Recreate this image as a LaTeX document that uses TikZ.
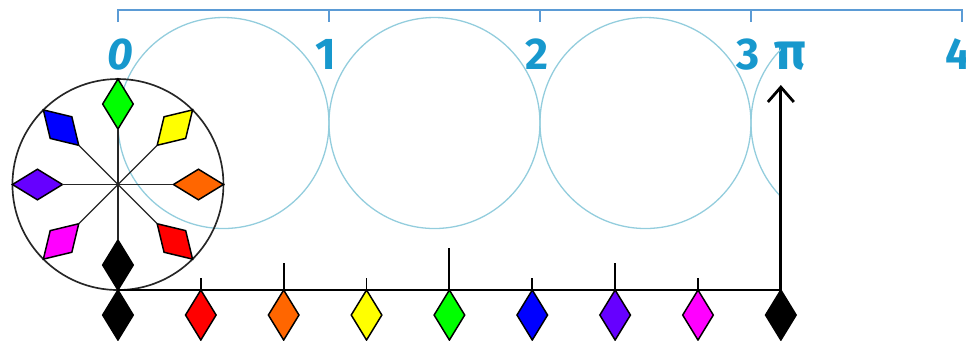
\documentclass[tikz,border=0pt]{standalone}
\usepackage{fontspec}
\setmainfont{Fira Sans}
\usetikzlibrary{arrows.meta, shapes.geometric}
\definecolor{scaleblue}{HTML}{5B9BD5}
\definecolor{numblue}{HTML}{1798CD}
\definecolor{pathblue}{HTML}{93CDDD}
\definecolor{gemgreen}{HTML}{00FF00}
\definecolor{gemyellow}{HTML}{FFFF00}
\definecolor{gemorange}{HTML}{FF6600}
\definecolor{gemred}{HTML}{FF0000}
\definecolor{gemmagenta}{HTML}{FF00FF}
\definecolor{gemviolet}{HTML}{6600FF}
\definecolor{gemblue}{HTML}{0000FF}

\begin{document}
\begin{tikzpicture}[>={Straight Barb[length=4pt, width=7pt]}, line width=0.45pt,
  gem/.style={
    shape=diamond, draw=black, line width=0.4pt, fill=#1,
    minimum width=0.29cm, minimum height=0.474cm,
    inner sep=0pt, outer sep=0pt
  },
  numlabel/.style={text=numblue, anchor=base,
    font=\fontsize{12}{14}\selectfont\bfseries},
  rollpath/.style={draw=pathblue, line width=0.35pt},
  scaleline/.style={draw=scaleblue, line width=0.35pt},
  spoke/.style={draw=black!85, line width=0.35pt},
  rolltick/.style={draw=black, line width=0.5pt}]

% Frame
\useasboundingbox (-1.118,-0.474) rectangle (8.038,2.749);

% --- Scale in diameters ---
\draw[scaleline] (0,2.54) -- (0,2.654) -- (8,2.654) -- (8,2.54);
\draw[scaleline] (2,2.654) -- (2,2.54);
\draw[scaleline] (4,2.654) -- (4,2.54);
\draw[scaleline] (6,2.654) -- (6,2.54);

\node[numlabel] (l0) at (0.02,2.09) {\itshape 0};
\node[numlabel] (l1) at (1.97,2.09) {1};
\node[numlabel] (l2) at (3.97,2.09) {2};
\node[numlabel] (l3) at (5.97,2.09) {3};
\node[numlabel, font=\fontsize{14}{16}\selectfont\bfseries] (lpi) at (6.37,2.09) {π};
\node[numlabel] (l4) at (7.96,2.09) {4};

% --- Circles laid along the scale ---
\draw[rollpath] (1,1.583) circle (1);
\draw[rollpath] (3,1.583) circle (1);
\draw[rollpath] (5,1.583) circle (1);
\begin{scope}
  \clip (5.5,0) rectangle ({2*pi},2.7);
  \draw[rollpath] (7,1.583) circle (1);
\end{scope}

% --- Wheel ---
\node[circle, draw=black!85, line width=0.45pt, minimum size=2cm,
      inner sep=0pt, outer sep=0pt] (wheel) at (0,1) {};

\node[gem=gemgreen, rotate=0, anchor=north] (wgreen) at (wheel.90) {};
\node[gem=gemyellow, rotate=-45, anchor=north] (wyellow) at (wheel.45) {};
\node[gem=gemorange, rotate=-90, anchor=north] (worange) at (wheel.0) {};
\node[gem=gemred, rotate=-135, anchor=north] (wred) at (wheel.-45) {};
\node[gem=black, rotate=180, anchor=north] (wblack) at (wheel.-90) {};
\node[gem=gemmagenta, rotate=135, anchor=north] (wmagenta) at (wheel.-135) {};
\node[gem=gemviolet, rotate=90, anchor=north] (wviolet) at (wheel.180) {};
\node[gem=gemblue, rotate=45, anchor=north] (wblue) at (wheel.135) {};

% spokes
\draw[spoke] (wheel.center) -- (wgreen.south);
\draw[spoke] (wheel.center) -- (wyellow.south);
\draw[spoke] (wheel.center) -- (worange.south);
\draw[spoke] (wheel.center) -- (wred.south);
\draw[spoke] (wheel.center) -- (wblack.south);
\draw[spoke] (wheel.center) -- (wmagenta.south);
\draw[spoke] (wheel.center) -- (wviolet.south);
\draw[spoke] (wheel.center) -- (wblue.south);

% --- Unrolled rim ---
\node[gem=black, anchor=north] (b0) at (0,0) {};
\node[gem=gemred, anchor=north] (b1) at ({pi/4},0) {};
\node[gem=gemorange, anchor=north] (b2) at ({2*pi/4},0) {};
\node[gem=gemyellow, anchor=north] (b3) at ({3*pi/4},0) {};
\node[gem=gemgreen, anchor=north] (b4) at ({4*pi/4},0) {};
\node[gem=gemblue, anchor=north] (b5) at ({5*pi/4},0) {};
\node[gem=gemviolet, anchor=north] (b6) at ({6*pi/4},0) {};
\node[gem=gemmagenta, anchor=north] (b7) at ({7*pi/4},0) {};
\node[gem=black, anchor=north] (b8) at ({2*pi},0) {};

\draw[rolltick] (b0.north) -- (b8.north);

% marks above each step
\draw[rolltick] (b1.north) -- ++(0,0.114);
\draw[rolltick] (b2.north) -- ++(0,0.256);
\draw[rolltick] (b3.north) -- ++(0,0.114);
\draw[rolltick] (b4.north) -- ++(0,0.398);
\draw[rolltick] (b5.north) -- ++(0,0.114);
\draw[rolltick] (b6.north) -- ++(0,0.256);
\draw[rolltick] (b7.north) -- ++(0,0.114);

% Arrow at one full turn
\coordinate (turn) at ({2*pi},1.943);
\draw[->, line width=0.75pt] (b8.north) -- (turn);

\end{tikzpicture}
\end{document}
